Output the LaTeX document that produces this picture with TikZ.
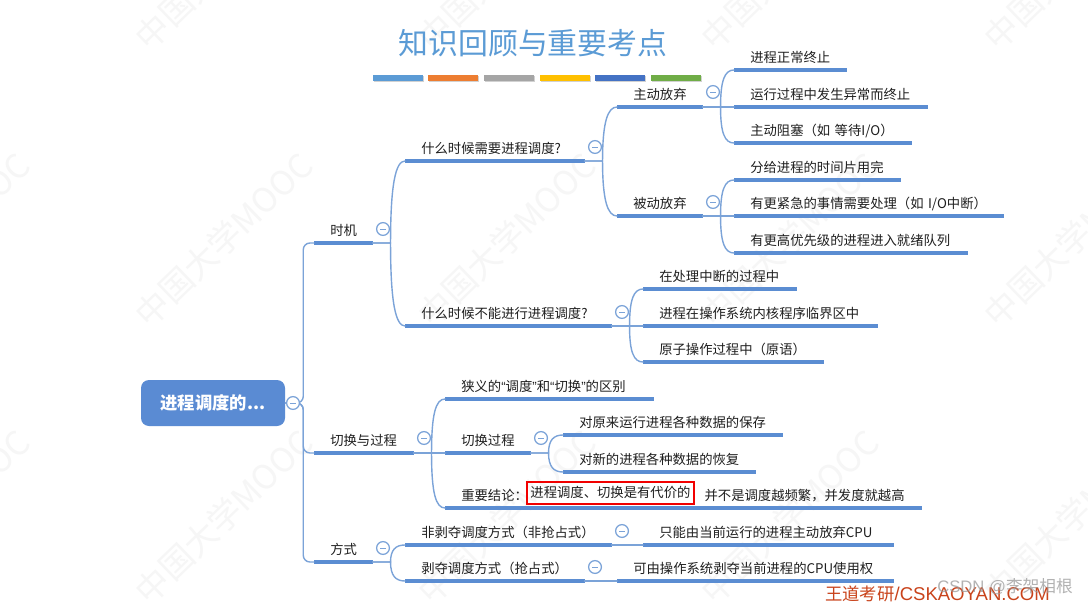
\documentclass[tikz,border=0pt]{standalone}
\usepackage{fontspec}
\usetikzlibrary{calc}
\setmainfont{Noto Sans CJK SC}
\newfontfamily\latinf{Liberation Sans}
\definecolor{barblue}{HTML}{5B8DD2}
\definecolor{linkblue}{HTML}{7BA3D8}
\definecolor{rootblue}{HTML}{5A8BD3}
\definecolor{titleblue}{HTML}{5B9BD5}
\definecolor{wm}{HTML}{F6F6F6}
\definecolor{foot}{HTML}{C9431B}
\tikzset{
  tpc/.style={anchor=south west,inner xsep=0pt,inner ysep=3.6pt,text height=8.6pt,text depth=2pt,font=\fontsize{10}{12}\selectfont,text=black!88,align=left},
  barline/.style={line width=2.4pt,draw=barblue},
  conn/.style={line width=1.05pt,draw=linkblue,line cap=round},
  toggle/.style={circle,draw=linkblue,line width=.95pt,fill=white,inner sep=0pt,minimum size=9.6pt,
    path picture={\draw[draw=linkblue,line width=.7pt] (-2pt,0)--(2pt,0);}},
  rootnode/.style={rectangle,rounded corners=6pt,fill=rootblue,text=white,font=\fontsize{13}{15}\selectfont\bfseries,inner sep=0pt,minimum width=108pt,minimum height=34.5pt},
  wmark/.style={rotate=44,text=wm,font=\fontsize{25}{27}\selectfont,inner sep=0pt,anchor=west},
  colorbar/.style={draw=none,minimum width=37.5pt,minimum height=4.5pt,inner sep=0pt,anchor=north west},
  hl/.style={draw=red!95!black,line width=1.7pt,inner xsep=1.5pt,inner ysep=0pt,minimum height=16.5pt,font=\fontsize{10}{12}\selectfont,text=black!88,text height=8.6pt,text depth=2pt,anchor=west},
  titlenode/.style={font=\fontsize{22.4}{26}\selectfont,text=titleblue,inner sep=0pt},
}
% topic: name, left x, right x, bar y, text
\newcommand{\tp}[5]{%
  \pgfmathsetmacro{\tpw}{(#3-#2)*0.75}%
  \node[tpc,text width=\tpw pt] (#1) at (#2,#4) {\hspace*{12pt}\mbox{#5}};%
  \draw[barline] (#1.south west) -- (#1.south east);}
% connectors
\newcommand{\linkcv}[2]{\draw[conn] (#1.south east) -- ++(13.5pt,0) coordinate (sp) .. controls ($(sp)!0.72!(sp|-#2.south west)$) and ($(#2.south west)+(-7pt,0)$) .. (#2.south west);}
\newcommand{\linkst}[2]{\draw[conn] (#1.south east) -- (#2.south west);}
\newcommand{\qq}[1]{{\latinf #1}}
\begin{document}
\begin{tikzpicture}[x=0.75pt,y=-0.75pt]
\useasboundingbox (0,0) rectangle (1088,606);
\fill[white] (0,0) rectangle (1088,606);
\begin{scope}
\clip (0,0) rectangle (1088,606);
\foreach \cx in {-143,140,423,706,989}
  \foreach \cy in {43,320,597}
    \node[wmark] at (\cx,\cy) {中国大学MOOC};
\end{scope}
% title
\node[titlenode] (title) at (533,43) {知识回顾与重要考点};
\foreach \n/\bx/\c in {a/373/5B9BD5,b/428/ED7D31,c/484/A5A5A5,d/540/FFC000,e/595/4472C4,f/651/70AD47}{
  \definecolor{cc}{HTML}{\c}
  \fill[black!18] (\bx+1,76.5) rectangle ++(50,6);
  \node[colorbar,fill=cc] (bar\n) at (\bx,75) {};
}
% root
\node[rootnode] (root) at (213,403) {进程调度的...};
% level 1
\tp{shiji}{314}{372}{243}{时机}
\tp{qiehuan}{314}{413}{453}{切换与过程}
\tp{fangshi}{314}{372}{562}{方式}
% shiji
\tp{xuyao}{405}{584}{161}{什么时候需要进程调度?}
\tp{buneng}{405}{611}{326}{什么时候不能进行进程调度?}
\tp{zhudong}{617}{702}{107}{主动放弃}
\tp{beidong}{617}{702}{216}{被动放弃}
\tp{za}{734}{846}{70}{进程正常终止}
\tp{zb}{734}{927}{107}{运行过程中发生异常而终止}
\tp{zc}{734}{911}{143}{主动阻塞（如 等待I/O）}
\tp{ba}{734}{900}{180}{分给进程的时间片用完}
\tp{bb}{734}{1003}{216}{有更紧急的事情需要处理（如 I/O中断）}
\tp{bc}{734}{967}{253}{有更高优先级的进程进入就绪队列}
\tp{na}{643}{796}{289}{在处理中断的过程中}
\tp{nb}{643}{877}{326}{进程在操作系统内核程序临界区中}
\tp{nc}{643}{823}{362}{原子操作过程中（原语）}
% qiehuan
\tp{xiayi}{445}{653}{399}{狭义的\qq{“}调度\qq{”}和\qq{“}切换\qq{”}的区别}
\tp{guocheng}{445}{530}{453}{切换过程}
\tp{ga}{563}{782}{435}{对原来运行进程各种数据的保存}
\tp{gb}{563}{755}{472}{对新的进程各种数据的恢复}
\tp{jielun}{445}{921}{508}{重要结论：\hspace{132.5pt}并不是调度越频繁，并发度就越高}
\node[hl,minimum width=125pt,inner xsep=0pt] (hlbox) at (526,493) {进程调度、切换是有代价的};
% fangshi
\tp{fei}{405}{611}{545}{非剥夺调度方式（非抢占式）}
\tp{bo}{405}{584}{581}{剥夺调度方式（抢占式）}
\tp{fa}{643}{893}{545}{只能由当前运行的进程主动放弃CPU}
\tp{fb}{617}{893}{581}{可由操作系统剥夺当前进程的CPU使用权}
% connectors
\draw[conn,rounded corners=5pt] (root.east) -- ++(13.5pt,0) |- (shiji.south west);
\draw[conn,rounded corners=5pt] (root.east) -- ++(13.5pt,0) |- (qiehuan.south west);
\draw[conn,rounded corners=5pt] (root.east) -- ++(13.5pt,0) |- (fangshi.south west);
\linkcv{shiji}{xuyao}
\linkcv{shiji}{buneng}
\linkcv{xuyao}{zhudong}
\linkcv{xuyao}{beidong}
\linkcv{zhudong}{za}
\linkst{zhudong}{zb}
\linkcv{zhudong}{zc}
\linkcv{beidong}{ba}
\linkst{beidong}{bb}
\linkcv{beidong}{bc}
\linkcv{buneng}{na}
\linkst{buneng}{nb}
\linkcv{buneng}{nc}
\linkcv{qiehuan}{xiayi}
\linkst{qiehuan}{guocheng}
\linkcv{qiehuan}{jielun}
\linkcv{guocheng}{ga}
\linkcv{guocheng}{gb}
\linkcv{fangshi}{fei}
\linkcv{fangshi}{bo}
\linkst{fei}{fa}
\linkst{bo}{fb}
% toggles
\node[toggle] (t1) at (293,403) {};
\node[toggle] (t2) at (383,229) {};
\node[toggle] (t3) at (595,147) {};
\node[toggle] (t4) at (713,92) {};
\node[toggle] (t5) at (713,202) {};
\node[toggle] (t6) at (622,312) {};
\node[toggle] (t7) at (424,438) {};
\node[toggle] (t8) at (541,438) {};
\node[toggle] (t9) at (383,548) {};
\node[toggle] (t10) at (622,531) {};
\node[toggle] (t11) at (595,567) {};
% footer
\node[anchor=west,inner sep=0pt,text=foot,font=\fontsize{13}{15}\selectfont] (wd) at (825,594) {王道考研{\fontsize{13.9}{15}\selectfont\qq{/CSKAOYAN.COM}}};
\node[anchor=west,inner sep=0pt,text=black!40,opacity=.75,font=\fontsize{12.5}{14}\selectfont] (csdn) at (937,587) {\qq{CSDN @}李架相根};
\end{tikzpicture}
\end{document}
